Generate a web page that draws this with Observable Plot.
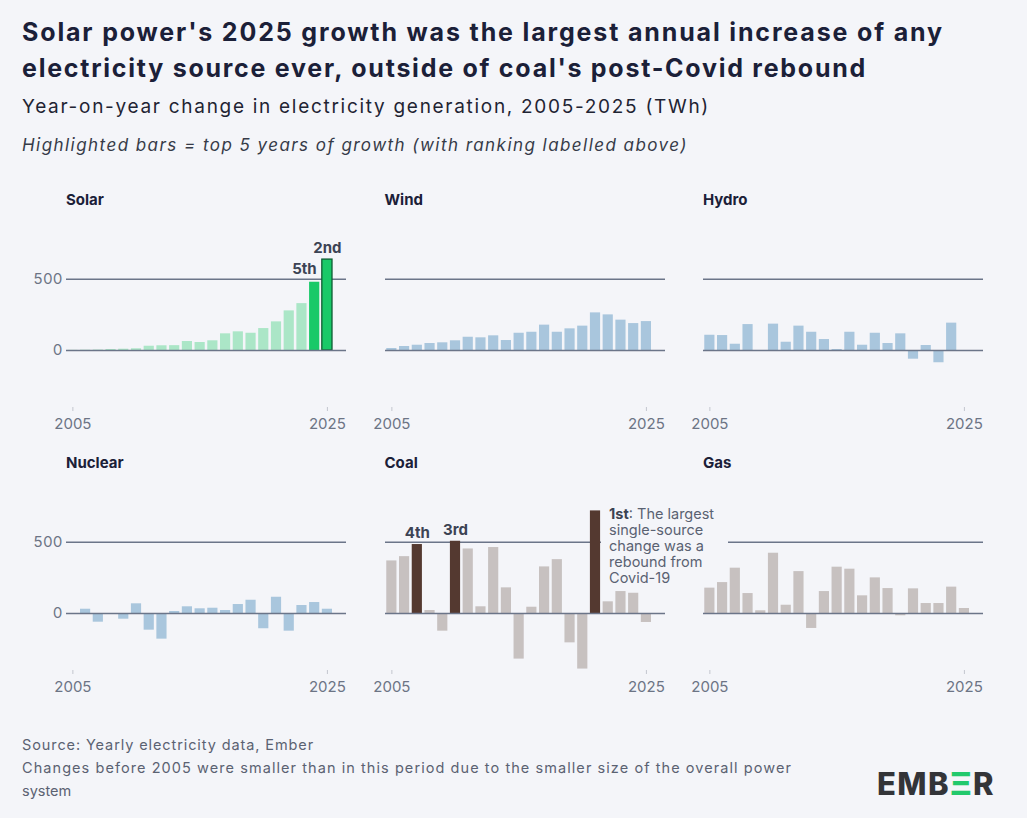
<!DOCTYPE html>
<html><head><meta charset="utf-8">
<script src="https://cdn.jsdelivr.net/npm/d3@7"></script>
<script src="https://cdn.jsdelivr.net/npm/@observablehq/plot@0.6"></script>
<style>
html,body{margin:0;padding:0;background:#fff;}
#card{position:relative;width:1027px;height:818px;background:#f4f5f9;font-family:Inter,"Open Sans",sans-serif;overflow:hidden;}
.abs{position:absolute;white-space:nowrap;}
.title{font-size:25px;font-weight:700;color:#1b2038;line-height:36px;left:22px;}
.sub{font-size:19px;font-weight:400;color:#1f2433;line-height:24px;left:22px;}
.ital{font-size:17px;font-style:italic;color:#363b48;line-height:24px;left:22px;}
.ptitle{font-size:15px;font-weight:700;color:#1b2038;line-height:20px;}
.foot{font-size:14.5px;color:#5b6272;line-height:23px;left:22px;}
.panel{position:absolute;}
.panel svg{overflow:visible;}
#annot{position:absolute;font-size:14.5px;line-height:16px;color:#5a6272;white-space:nowrap;z-index:5;}
#annot .ln{display:inline-block;background:#f4f5f9;padding:0 24px 0 8px;}
#annot b{color:#3b4252;font-weight:700;}
#logo{font-size:31px;font-weight:800;color:#333438;line-height:34px;left:877px;top:767px;}
#logo span{color:#22c96c;}
</style></head>
<body><div id="card"></div>
<script>
// ---------------- data ----------------
const years = [2005,2006,2007,2008,2009,2010,2011,2012,2013,2014,2015,2016,2017,2018,2019,2020,2021,2022,2023,2024,2025];
const solar   = [1,2,3,7,9,12,30,33,34,63,56,68,117,131,121,154,201,278,329,479,638];
const wind    = [14,28,37,49,54,68,93,89,103,70,121,128,178,128,152,171,264,250,213,189,203];
const hydro   = [107,105,44,182,0,185,58,171,128,77,7,128,37,121,49,117,-61,35,-86,192,0];
const nuclear = [0,30,-61,-7,-40,68,-117,-180,14,47,33,37,21,63,93,-107,114,-124,56,77,30];
const coal    = [369,399,484,21,-124,507,453,47,463,180,-320,44,327,378,-206,-390,720,82,154,142,-63];
const gas     = [178,217,318,140,19,423,58,294,-105,154,325,311,124,250,175,-16,173,70,70,185,35];

const sources = ["Solar","Wind","Hydro","Nuclear","Coal","Gas"];
const seriesList = [solar, wind, hydro, nuclear, coal, gas];

const rankSources = ["Coal","Solar","Coal","Coal","Solar"];
const rankYears   = [2021,2025,2010,2007,2024];
const rankLabels  = ["1st","2nd","3rd","4th","5th"];

const xTickLabels = [2005, 2025];
const yTickLabels = [0, 500];

const title1 = "Solar power's 2025 growth was the largest annual increase of any";
const title2 = "electricity source ever, outside of coal's post-Covid rebound";
const subtitle = "Year-on-year change in electricity generation, 2005-2025 (TWh)";
const note = "Highlighted bars = top 5 years of growth (with ranking labelled above)";
const foot1 = "Source: Yearly electricity data, Ember";
const foot2 = "Changes before 2005 were smaller than in this period due to the smaller size of the overall power";
const foot3 = "system";
const annotLines = ["<b>1st</b>: The largest", "single-source", "change was a", "rebound from", "Covid-19"];

// ---------------- styles ----------------
const palette = {
  Solar:   {base:"#abe6c7", hi:"#19c968"},
  Wind:    {base:"#a9c6dd", hi:"#a9c6dd"},
  Hydro:   {base:"#a9c6dd", hi:"#a9c6dd"},
  Nuclear: {base:"#a9c6dd", hi:"#a9c6dd"},
  Coal:    {base:"#c7c1c0", hi:"#543930"},
  Gas:     {base:"#c7c1c0", hi:"#543930"}
};
const gridColor = "#6b7589";
const axisColor = "#6c7485";
const card = document.getElementById("card");

function addDiv(cls, text, top, left, id) {
  const d = document.createElement("div");
  d.className = "abs " + cls;
  d.textContent = text;
  d.style.top = top + "px";
  if (left != null) d.style.left = left + "px";
  if (id) d.id = id;
  card.appendChild(d);
  return d;
}
function fit(el, target) {
  el.style.letterSpacing = "0px";
  const w = el.getBoundingClientRect().width;
  const n = el.textContent.length;
  el.style.letterSpacing = ((target - w) / n).toFixed(3) + "px";
}

fit(addDiv("title", title1, 14), 922);
fit(addDiv("title", title2, 50), 845);
fit(addDiv("sub", subtitle, 95), 688);
fit(addDiv("ital", note, 133), 666);
fit(addDiv("foot", foot1, 732.5), 292);
fit(addDiv("foot", foot2, 755.5), 770);
addDiv("foot", foot3, 778.5);

// logo
const logo = document.createElement("div");
logo.className = "abs"; logo.id = "logo";
logo.innerHTML = 'EMB<span>Ξ</span>R';
card.appendChild(logo);
fit(logo, 118);

// ---------------- panels ----------------
const xDomain = [...years, 2026];
const gridStart = [66, 384.5, 703];
const rowTop = [226, 489];
const titleTop = [189.5, 452.5];
const ML = 50, MR = 10, MT = 10, MB = 30, W = 340, H = 211;

sources.forEach((src, i) => {
  const col = i % 3, row = Math.floor(i / 3);
  const vals = seriesList[i];
  const data = years.map((y, k) => ({year: y, value: vals[k]}));
  const ranks = rankYears
    .map((y, k) => ({year: y, source: rankSources[k], label: rankLabels[k], value: vals[years.indexOf(y)]}))
    .filter(d => d.source === src);
  const hl = new Set(ranks.map(d => d.year));
  const pal = palette[src];

  const marks = [
    Plot.ruleY([500], {stroke: gridColor, strokeWidth: 1.5}),
    Plot.barY(data.filter(d => !hl.has(d.year)), {x: "year", y: "value", fill: pal.base}),
    Plot.barY(data.filter(d => hl.has(d.year) && !(src === "Solar" && d.year === 2025)), {x: "year", y: "value", fill: pal.hi}),
    Plot.barY(data.filter(d => hl.has(d.year) && src === "Solar" && d.year === 2025), {x: "year", y: "value", fill: pal.hi, stroke: "#0f5b33", strokeWidth: 1.3}),
    Plot.ruleY([0], {stroke: gridColor, strokeWidth: 1.5}),
    Plot.axisX({ticks: xTickLabels, tickSize: 4, tickPadding: 7, strokeOpacity: 0.35, color: axisColor, label: null, tickFormat: d => String(d)})
  ];
  if (col === 0) marks.push(Plot.axisY({ticks: yTickLabels, tickSize: 0, tickPadding: 4, color: axisColor, label: null}));
  ranks.filter(d => d.label !== "1st").forEach(d => {
    const is5 = d.label === "5th";
    marks.push(Plot.text([d], {
      x: "year", y: "value", text: "label",
      dy: is5 ? -13 : -11, dx: is5 ? 2 : 0,
      textAnchor: is5 ? "end" : "middle",
      fontWeight: 700, fontSize: 15, fill: "#3c4354"
    }));
  });

  const plot = Plot.plot({
    width: W, height: H,
    marginLeft: ML, marginRight: MR, marginTop: MT, marginBottom: MB,
    style: {background: "transparent", overflow: "visible", fontFamily: "Inter, 'Open Sans', sans-serif", fontSize: "15px", color: axisColor},
    x: {type: "band", domain: xDomain, paddingInner: 0.2, paddingOuter: 0.1, round: false, axis: null, label: null},
    y: {domain: [-400, 800], axis: null, label: null},
    marks
  });
  const wrap = document.createElement("div");
  wrap.className = "panel";
  const left = gridStart[col] - ML, top = rowTop[row];
  wrap.style.left = left + "px";
  wrap.style.top = top + "px";
  wrap.appendChild(plot);
  card.appendChild(wrap);

  addDiv("ptitle", src, titleTop[row], gridStart[col]);

  // annotation for the 1st-ranked bar
  const first = ranks.find(d => d.label === "1st");
  if (first) {
    const xs = plot.scale("x"), ys = plot.scale("y");
    let bx, bw, by;
    if (xs.apply) { bx = xs.apply(first.year); bw = xs.bandwidth; }
    else {
      const b = d3.scaleBand(xs.domain, xs.range).paddingInner(0.2).paddingOuter(0.1);
      bx = b(first.year); bw = b.bandwidth();
    }
    if (ys.apply) by = ys.apply(first.value);
    else by = d3.scaleLinear(ys.domain, ys.range)(first.value);
    const a = document.createElement("div");
    a.id = "annot";
    a.innerHTML = annotLines.map(s => '<span class="ln">' + s + '</span>').join("<br>");
    a.style.left = (left + bx + bw + 1.5) + "px";
    a.style.top = (top + by - 4) + "px";
    card.appendChild(a);
  }
});
</script>
</body></html>
